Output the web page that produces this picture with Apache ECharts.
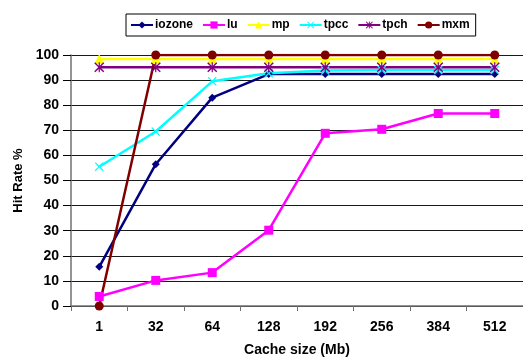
<!DOCTYPE html>
<html>
<head>
<meta charset="utf-8">
<script src="https://cdn.jsdelivr.net/npm/echarts@6/dist/echarts.min.js"></script>
<style>
  html, body { margin: 0; padding: 0; background: #fff; }
  #chart { width: 523px; height: 362px; }
</style>
</head>
<body>
<div id="chart"></div>
<script>
// Cache sizes (Mb) on the category axis
const cacheSizes = ['1', '32', '64', '128', '192', '256', '384', '512'];

// Hit rate (%) for each workload
const iozone = [15.6, 56.5, 83.0, 92.4, 92.4, 92.4, 92.4, 92.4];
const lu     = [3.8, 10.2, 13.3, 30.2, 68.8, 70.4, 76.7, 76.7];
const mp     = [98.4, 98.4, 98.4, 98.4, 98.4, 98.4, 98.4, 98.4];
const tpcc   = [55.5, 69.5, 89.5, 92.7, 93.8, 94.0, 94.0, 94.0];
const tpch   = [95.1, 95.1, 95.1, 95.1, 95.1, 95.1, 95.1, 95.1];
const mxm    = [0, 100, 100, 100, 100, 100, 100, 100];

const crossPath = 'path://M0,1 L1,0 L5,4 L9,0 L10,1 L6,5 L10,9 L9,10 L5,6 L1,10 L0,9 L4,5 Z';
const starPath = 'path://M0,1 L1,0 L4.4,3.4 L4.4,0 L5.6,0 L5.6,3.4 L9,0 L10,1 L6,5 L10,9 L9,10 L5.6,6.6 L5.6,10 L4.4,10 L4.4,6.6 L1,10 L0,9 L4,5 Z';

const font = 'Liberation Sans, Arial, sans-serif';

function makeSeries(name, data, color, symbol, size) {
  return {
    name: name,
    type: 'line',
    data: data,
    symbol: symbol,
    symbolSize: size,
    showAllSymbol: true,
    lineStyle: { color: color, width: 2.5 },
    itemStyle: { color: color, borderWidth: 0 },
    emphasis: { disabled: true },
    animation: false
  };
}

const chart = echarts.init(document.getElementById('chart'), null, { renderer: 'canvas' });
chart.setOption({
  backgroundColor: '#ffffff',
  animation: false,
  legend: {
    left: 126,
    top: 14,
    width: 420,
    orient: 'horizontal',
    padding: [5, 6, 5, 4],
    itemGap: 9,
    itemWidth: 22,
    itemHeight: 9,
    borderColor: '#000',
    borderWidth: 1,
    textStyle: { fontFamily: font, fontSize: 12, fontWeight: 'bold', color: '#000', padding: [0, 0, 0, -3] },
    data: ['iozone', 'lu', 'mp', 'tpcc', 'tpch', 'mxm']
  },
  grid: { left: 71, top: 55, width: 456, height: 253, containLabel: false },
  xAxis: {
    type: 'category',
    data: cacheSizes,
    boundaryGap: true,
    name: 'Cache size (Mb)',
    nameLocation: 'middle',
    nameGap: 37,
    nameTextStyle: { fontFamily: font, fontSize: 14, fontWeight: 'bold', color: '#000' },
    axisLine: { lineStyle: { color: '#707070', width: 1.5 } },
    axisTick: { show: true, interval: 0, length: 5, lineStyle: { color: '#707070', width: 1 } },
    axisLabel: { interval: 0, margin: 14, fontFamily: font, fontSize: 14, fontWeight: 'bold', color: '#000' },
    splitLine: { show: false }
  },
  yAxis: {
    type: 'value',
    min: 0,
    max: 100,
    interval: 10,
    name: 'Hit Rate %',
    nameLocation: 'middle',
    nameRotate: 90,
    nameGap: 45,
    nameTextStyle: { fontFamily: font, fontSize: 13, fontWeight: 'bold', color: '#000' },
    axisLine: { show: true, lineStyle: { color: '#707070', width: 1.5 } },
    axisTick: { show: true, length: 8, lineStyle: { color: '#000', width: 1 } },
    axisLabel: { margin: 12, fontFamily: font, fontSize: 14, fontWeight: 'bold', color: '#000' },
    splitLine: { show: true, lineStyle: { color: '#1a1a1a', width: 1 } }
  },
  series: [
    makeSeries('iozone', iozone, '#000080', 'diamond', 8),
    makeSeries('lu', lu, '#ff00ff', 'rect', 9),
    makeSeries('mp', mp, '#ffff00', 'triangle', 10),
    makeSeries('tpcc', tpcc, '#00ffff', crossPath, 9),
    makeSeries('tpch', tpch, '#800080', starPath, 10),
    makeSeries('mxm', mxm, '#800000', 'circle', 9)
  ]
});
</script>
</body>
</html>
